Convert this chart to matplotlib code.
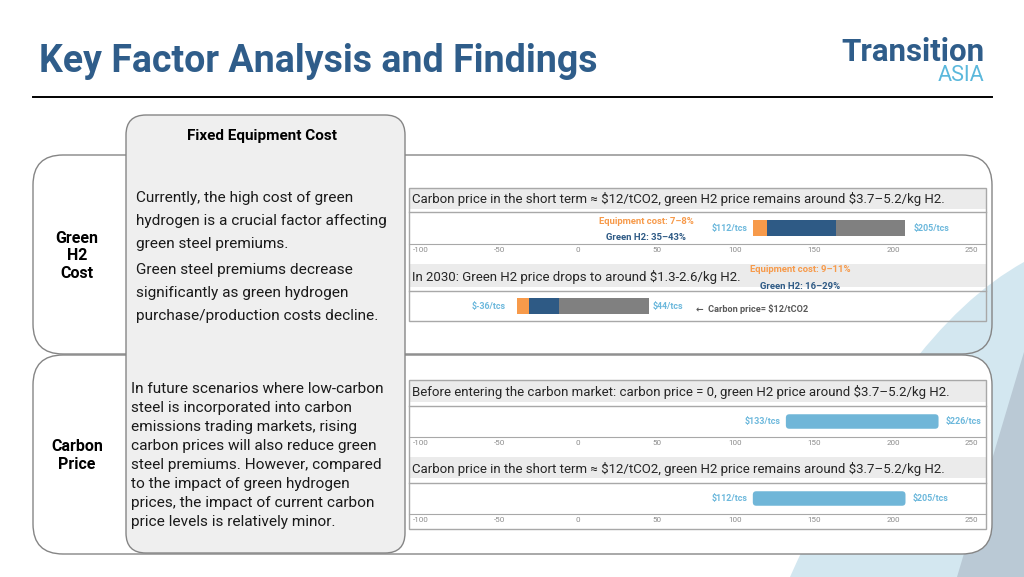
import matplotlib
matplotlib.use('Agg')
import matplotlib.pyplot as plt
from matplotlib.patches import FancyBboxPatch, Rectangle, Polygon, PathPatch
from matplotlib.path import Path

plt.rcParams['font.family'] = ['Roboto', 'DejaVu Sans']
plt.rcParams['axes.unicode_minus'] = False

W, H = 1024, 577

# ---- data -------------------------------------------------------------
x_ticks = [-100, -50, 0, 50, 100, 150, 200, 250]
x_tick_labels = ['-100', '-50', '0', '50', '100', '150', '200', '250']

# stacked segments: equipment cost | green H2 | other  (edges in $/tcs)
seg_colors = ['#F79A4A', '#2E5A85', '#808080']
h2_short_edges = [111, 120, 164, 208]
h2_2030_edges = [-39, -31, -12, 45]
h2_short_labels = ['$112/tcs', '$205/tcs']
h2_2030_labels = ['$-36/tcs', '$44/tcs']
h2_short_shares = ['Equipment cost: 7–8%', 'Green H2: 35–43%']
h2_2030_shares = ['Equipment cost: 9–11%', 'Green H2: 16–29%']

cp_zero_range = [132, 229]
cp_short_range = [111, 208]
cp_zero_labels = ['$133/tcs', '$226/tcs']
cp_short_labels = ['$112/tcs', '$205/tcs']

header_h2_short = 'Carbon price in the short term ≈ $12/tCO2, green H2 price remains around $3.7–5.2/kg H2.'
header_h2_2030 = 'In 2030: Green H2 price drops to around $1.3-2.6/kg H2.'
header_cp_zero = 'Before entering the carbon market: carbon price = 0, green H2 price around $3.7–5.2/kg H2.'
header_cp_short = header_h2_short
carbon_note = '←  Carbon price= $12/tCO2'

h2_text = ['Currently, the high cost of green',
           'hydrogen is a crucial factor affecting',
           'green steel premiums.',
           'Green steel premiums decrease',
           'significantly as green hydrogen',
           'purchase/production costs decline.']
cp_text = ['In future scenarios where low-carbon',
           'steel is incorporated into carbon',
           'emissions trading markets, rising',
           'carbon prices will also reduce green',
           'steel premiums. However, compared',
           'to the impact of green hydrogen',
           'prices, the impact of current carbon',
           'price levels is relatively minor.']

# ---- colours ------------------------------------------------------------
NAVY = '#2F5D8A'
LBLUE = '#6CB8DC'
BAR_BLUE = '#70B6D8'
ORANGE = '#F79A4A'
EDGE = '#858585'
BAND = '#EBEBEB'
FRAME = '#A8A8A8'

# chart x mapping (pixel 578.1 == 0, 1.574 px per unit)
CH_L, CH_R = 409, 986
XMIN = (CH_L - 578.1) / 1.574
XMAX = (CH_R - 578.1) / 1.574

fig = plt.figure(figsize=(W / 100, H / 100), dpi=100)
ax0 = fig.add_axes([0, 0, 1, 1])
ax0.set_xlim(0, W)
ax0.set_ylim(H, 0)
ax0.axis('off')


def txt(x, y, s, **kw):
    kw.setdefault('zorder', 4)
    return ax0.text(x, y, s, parse_math=False, **kw)


# background decoration
bg = Path([(1024, 262), (900, 330), (790, 577), (1024, 577), (1024, 262)],
          [Path.MOVETO, Path.CURVE3, Path.CURVE3, Path.LINETO, Path.CLOSEPOLY])
ax0.add_patch(PathPatch(bg, facecolor='#D3E7F0', edgecolor='none', zorder=0))
ax0.add_patch(Polygon([(1024, 352), (957, 577), (1024, 577)], closed=True,
                      facecolor='#BAC9D5', edgecolor='none', zorder=0.5))

# title + logo
txt(39, 62, 'Key Factor Analysis and Findings', fontsize=27, fontweight='bold',
    color=NAVY, ha='left', va='center')
ax0.plot([33, 992], [97, 97], color='black', lw=1.4)
txt(984, 61, 'Transition', fontsize=22.5, fontweight='bold', color=NAVY,
    ha='right', va='baseline')
txt(984, 81, 'ASIA', fontsize=15.5, color='#5BB8DC', ha='right', va='baseline')

# outer boxes
ax0.add_patch(FancyBboxPatch((33, 155), 959, 199, boxstyle='round,pad=0,rounding_size=30',
                             facecolor='none', edgecolor=EDGE, lw=1, zorder=1))
ax0.add_patch(FancyBboxPatch((33, 355), 959, 199, boxstyle='round,pad=0,rounding_size=30',
                             facecolor='white', edgecolor=EDGE, lw=1, zorder=1))
ax0.add_patch(FancyBboxPatch((126, 115), 279, 438, boxstyle='round,pad=0,rounding_size=20',
                             facecolor='#EFEFEF', edgecolor=EDGE, lw=1, zorder=2))

txt(77, 256, 'Green\nH2\nCost', fontsize=11.5, fontweight='bold', ha='center',
    va='center', linespacing=1.2)
txt(77, 455.5, 'Carbon\nPrice', fontsize=11.5, fontweight='bold', ha='center',
    va='center', linespacing=1.2)
txt(262, 136, 'Fixed Equipment Cost', fontsize=11, fontweight='bold',
    ha='center', va='center')

for i, line in enumerate(h2_text):
    y = 198 + 23 * i + (3 if i >= 3 else 0)
    txt(136, y, line, fontsize=11.1, color='#1A1A1A', ha='left', va='center')
for i, line in enumerate(cp_text):
    txt(131, 389.3 + 19 * i, line, fontsize=11.1, color='#1A1A1A', ha='left', va='center')

# chart frames, header bands
for (y0, y1) in [(188, 321), (380, 529)]:
    ax0.add_patch(Rectangle((CH_L, y0), CH_R - CH_L, y1 - y0, facecolor='none',
                            edgecolor=FRAME, lw=1, zorder=3))
for (y0, y1, yt, s) in [(188, 209, 199.3, header_h2_short), (264, 287, 277, header_h2_2030),
                        (380, 402, 392.3, header_cp_zero), (457, 478, 469, header_cp_short)]:
    ax0.add_patch(Rectangle((CH_L, y0), CH_R - CH_L, y1 - y0, facecolor=BAND,
                            edgecolor='none', zorder=2.5))
    txt(412, yt, s, fontsize=9.5, color='#262626', ha='left', va='center')
for y in [212, 291, 406, 483]:
    ax0.plot([CH_L, CH_R], [y, y], color=FRAME, lw=1, zorder=3)

# share annotations
txt(646, 222, h2_short_shares[0], fontsize=6.8, fontweight='bold', color=ORANGE,
    ha='center', va='center')
txt(646, 237, h2_short_shares[1], fontsize=6.8, fontweight='bold', color='#2E5A85',
    ha='center', va='center')
txt(800.5, 270, h2_2030_shares[0], fontsize=6.8, fontweight='bold', color=ORANGE,
    ha='center', va='center')
txt(800.5, 286.5, h2_2030_shares[1], fontsize=6.8, fontweight='bold', color='#2E5A85',
    ha='center', va='center')
txt(696, 309, carbon_note, fontsize=6.6, fontweight='bold', color='#595959',
    ha='left', va='center')


def add_row(y0, y1, with_axis=True):
    ax = fig.add_axes([CH_L / W, 1 - y1 / H, (CH_R - CH_L) / W, (y1 - y0) / H])
    ax.set_xlim(XMIN, XMAX)
    ax.set_ylim(-0.5, 0.5)
    ax.set_facecolor('none')
    for s in ['top', 'left', 'right']:
        ax.spines[s].set_visible(False)
    ax.set_yticks([])
    if with_axis:
        ax.spines['bottom'].set_color(FRAME)
        ax.set_xticks(x_ticks)
        ax.set_xticklabels(x_tick_labels)
        ax.tick_params(axis='x', length=0, labelsize=5.8, labelcolor='#8C8C8C', pad=2.5)
    else:
        ax.spines['bottom'].set_visible(False)
        ax.set_xticks([])
    return ax


def end_labels(ax, start, end, labels, gap_left=3.5, gap_right=6):
    ax.annotate(labels[0], xy=(start, 0), xytext=(-gap_left, 0), textcoords='offset points',
                ha='right', va='center', fontsize=6.4, fontweight='bold', color=LBLUE,
                parse_math=False)
    ax.annotate(labels[1], xy=(end, 0), xytext=(gap_right, 0), textcoords='offset points',
                ha='left', va='center', fontsize=6.4, fontweight='bold', color=LBLUE,
                parse_math=False)


def stacked(ax, edges, labels, height, **kw):
    for k in range(3):
        ax.barh(0, edges[k + 1] - edges[k], left=edges[k], height=height,
                color=seg_colors[k], edgecolor='none')
    end_labels(ax, edges[0], edges[-1], labels, **kw)


def rounded(ax, rng, labels, height, row_px):
    aspect = (1.0 / row_px) / (1.0 / 1.574)
    ax.add_patch(FancyBboxPatch((rng[0], -height / 2), rng[1] - rng[0], height,
                                boxstyle='round,pad=0,rounding_size=2.2',
                                mutation_aspect=aspect, facecolor=BAR_BLUE, edgecolor='none'))
    end_labels(ax, rng[0], rng[1], labels, gap_right=5)


ax1 = add_row(212, 244)
stacked(ax1, h2_short_edges, h2_short_labels, 15.5 / 32)
ax2 = add_row(291, 321, with_axis=False)
stacked(ax2, h2_2030_edges, h2_2030_labels, 16 / 30, gap_left=8, gap_right=3)
ax3 = add_row(406, 437)
rounded(ax3, cp_zero_range, cp_zero_labels, 14.5 / 31, 31)
ax4 = add_row(483, 514)
rounded(ax4, cp_short_range, cp_short_labels, 14.5 / 31, 31)

fig.savefig('out.png', dpi=100)
